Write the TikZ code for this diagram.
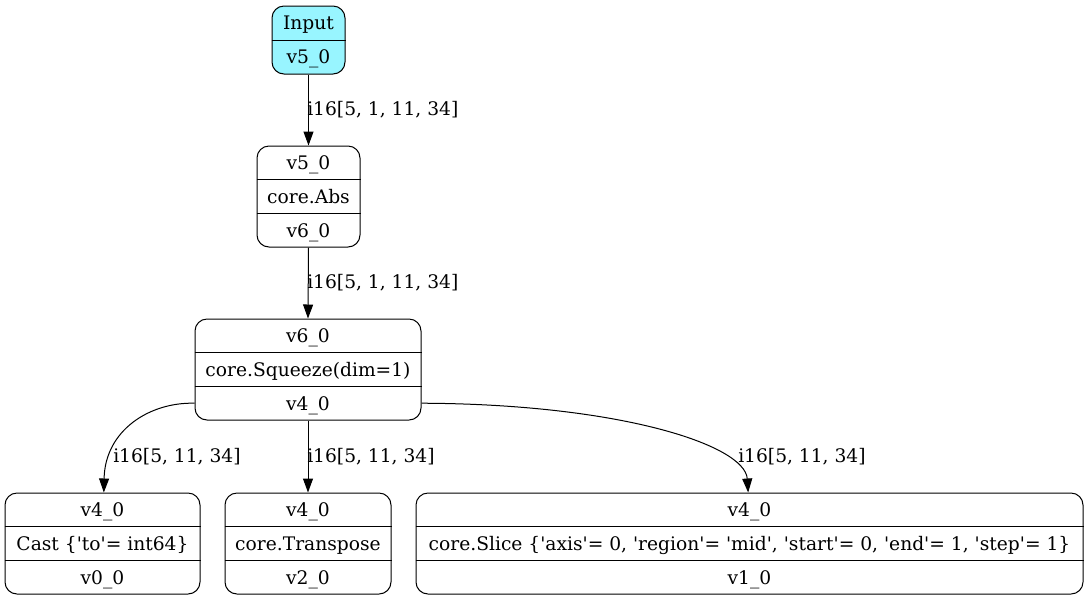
\documentclass[tikz,border=0pt]{standalone}
\usepackage{fontspec}
\setmainfont{DejaVu Serif}
\usetikzlibrary{arrows.meta}
\definecolor{inputcyan}{HTML}{98F5FF}
\newcommand\qt{\textquotesingle}
\begin{document}
\begin{tikzpicture}[x=0.75pt,y=-0.75pt,
  font=\fontsize{14}{16}\selectfont,
  rec/.style={draw, line width=0.75pt, rounded corners=9pt, inner sep=0pt},
  inp/.style={rec, fill=inputcyan},
  txt/.style={anchor=base, inner sep=0pt},
  lbl/.style={anchor=west, inner sep=0pt},
  edge/.style={line width=0.75pt, -{Triangle[length=10.5pt,width=7.5pt]}},
  div/.style={line width=0.75pt}]
\path[use as bounding box] (0,0) rectangle (1089,601);

% Input
\node[inp, minimum width=54.75pt, minimum height=51pt] (in) at (308.5,40) {};
\draw[div] (in.west |- 0,40) -- (in.east |- 0,40);
\node[txt] (in1) at (308.5,29.8) {Input};
\node[txt] (in2) at (308.5,63.8) {v5\_0};

% Abs
\node[rec, minimum width=77.25pt, minimum height=75.75pt] (abs) at (308.5,196.5) {};
\draw[div] (abs.west |- 0,179.7) -- (abs.east |- 0,179.7);
\draw[div] (abs.west |- 0,213.3) -- (abs.east |- 0,213.3);
\node[txt] (abs1) at (308.5,169.6) {v5\_0};
\node[txt] (abs2) at (308.5,203.3) {core.Abs};
\node[txt] (abs3) at (308.5,237.0) {v6\_0};

% Squeeze
\node[rec, minimum width=169.5pt, minimum height=75.75pt] (sq) at (308,369.5) {};
\draw[div] (sq.west |- 0,352.7) -- (sq.east |- 0,352.7);
\draw[div] (sq.west |- 0,386.3) -- (sq.east |- 0,386.3);
\node[txt] (sq1) at (308,342.6) {v6\_0};
\node[txt] (sq2) at (308,376.3) {core.Squeeze(dim=1)};
\node[txt] (sq3) at (308,410.0) {v4\_0};
\coordinate (sqrow) at (308,403.2);

% Cast
\node[rec, minimum width=146.25pt, minimum height=75.75pt] (cast) at (102.5,543.5) {};
\draw[div] (cast.west |- 0,526.7) -- (cast.east |- 0,526.7);
\draw[div] (cast.west |- 0,560.3) -- (cast.east |- 0,560.3);
\node[txt] (cast1) at (102.5,516.6) {v4\_0};
\node[txt] (cast2) at (102.5,550.3) {Cast \{\qt to\qt= int64\}};
\node[txt] (cast3) at (102.5,584.0) {v0\_0};

% Transpose
\node[rec, minimum width=124.5pt, minimum height=75.75pt] (tr) at (308,543.5) {};
\draw[div] (tr.west |- 0,526.7) -- (tr.east |- 0,526.7);
\draw[div] (tr.west |- 0,560.3) -- (tr.east |- 0,560.3);
\node[txt] (tr1) at (308,516.6) {v4\_0};
\node[txt] (tr2) at (308,550.3) {core.Transpose};
\node[txt] (tr3) at (308,584.0) {v2\_0};

% Slice
\node[rec, minimum width=500.25pt, minimum height=75.75pt] (sl) at (749.5,543.5) {};
\draw[div] (sl.west |- 0,526.7) -- (sl.east |- 0,526.7);
\draw[div] (sl.west |- 0,560.3) -- (sl.east |- 0,560.3);
\node[txt] (sl1) at (749.5,516.6) {v4\_0};
\node[txt] (sl2) at (749.5,550.3) {core.Slice \{\qt axis\qt= 0, \qt region\qt= \qt mid\qt, \qt start\qt= 0, \qt end\qt= 1, \qt step\qt= 1\}};
\node[txt] (sl3) at (749.5,584.0) {v1\_0};

% Edges
\draw[edge] (in.south) -- (abs.north);
\draw[edge] (abs.south) -- (sq.north);
\draw[edge] (sq.west |- sqrow) .. controls (150,402) and (105,430) .. ([xshift=1pt]cast.north);
\draw[edge] (sq.south) -- (tr.north);
\draw[edge] (sq.east |- sqrow) .. controls (620,404) and (745,445) .. ([xshift=-1pt]sl.north);

% Edge labels
\node[lbl] (l1) at (307,110) {i16[5, 1, 11, 34]};
\node[lbl] (l2) at (307,283) {i16[5, 1, 11, 34]};
\node[lbl] (l3) at (113,457) {i16[5, 11, 34]};
\node[lbl] (l4) at (307,457) {i16[5, 11, 34]};
\node[lbl] (l5) at (738,457) {i16[5, 11, 34]};
\end{tikzpicture}
\end{document}
